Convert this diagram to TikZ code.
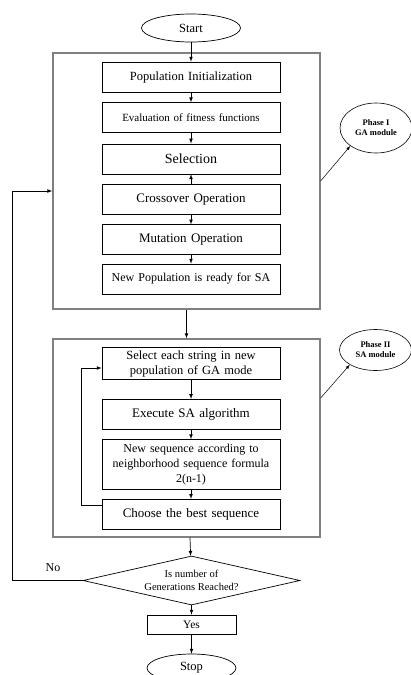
\documentclass[tikz,border=0pt]{standalone}
\usepackage{fontspec}
\setmainfont{Liberation Serif}
\usetikzlibrary{shapes.geometric, arrows, positioning}

\begin{document}
\begin{tikzpicture}[x=1pt, y=-1pt, node distance=10pt,
        stepbox/.style={rectangle, draw=black, line width=0.7pt, text width=172pt, align=center, minimum height=29.5pt, inner sep=3pt, font=\fontsize{12.5}{13.5}\selectfont},
        frame/.style={rectangle, draw=gray, line width=1.3pt, minimum width=267pt},
        term/.style={ellipse, draw=black, line width=0.7pt, inner sep=0pt, font=\fontsize{12.5}{14}\selectfont},
        phase/.style={ellipse, draw=black, line width=0.6pt, inner sep=0pt, minimum width=72pt, align=center, font=\fontsize{8.5}{10}\selectfont\bfseries},
        line/.style={draw=black, -latex, line width=0.7pt}]

        \useasboundingbox (0,0) rectangle (411,675);

        % Marcos de las dos fases
        \node [frame, minimum height=256pt] (ga) at (186.5,181) {};
        \node [frame, minimum height=198pt] (sa) at (186.5,438) {};

        % Fase I (GA)
        \node [term, minimum width=99pt, minimum height=28pt] (start) at (191,28) {Start};
        \node [stepbox, minimum height=30pt] (init) at (191,77) {Population Initialization};
        \node [stepbox, below=10pt of init, font=\fontsize{11}{13}\selectfont] (eval) {Evaluation of fitness functions};
        \node [stepbox, below=11pt of eval, minimum height=30pt, font=\fontsize{14}{15}\selectfont] (sel) {Selection};
        \node [stepbox, below=10pt of sel, font=\fontsize{13}{14}\selectfont] (cross) {Crossover Operation};
        \node [stepbox, below=10pt of cross, font=\fontsize{13}{14}\selectfont] (mut) {Mutation Operation};
        \node [stepbox, below=9pt of mut, minimum height=30pt, font=\fontsize{12}{13}\selectfont] (newpop) {New Population is ready for SA};

        % Fase II (SA)
        \node [stepbox, minimum height=31pt, font=\fontsize{12.5}{15}\selectfont] (pick) at (191,363.5) {Select each string in new\\population of GA mode};
        \node [stepbox, below=19pt of pick, font=\fontsize{13}{14}\selectfont] (runsa) {Execute SA algorithm};
        \node [stepbox, below=10pt of runsa, minimum height=50pt, font=\fontsize{12}{15}\selectfont] (newseq) {New sequence according to\\neighborhood sequence formula\\2(n-1)};
        \node [stepbox, below=9pt of newseq, minimum height=30pt, font=\fontsize{13}{14}\selectfont] (best) {Choose the best sequence};

        % Decision y fin
        \node [diamond, draw=black, line width=0.7pt, aspect=4.4, inner sep=0pt, minimum width=217pt, minimum height=49pt, align=center, font=\fontsize{10.5}{13}\selectfont] (check) at (191.5,580.5) {Is number of\\Generations Reached?};
        \node [rectangle, draw=black, line width=0.7pt, minimum width=89pt, minimum height=19pt, inner sep=0pt, font=\fontsize{11.5}{13}\selectfont] (yes) at (191.5,624.5) {Yes};
        \node [term, minimum width=89pt, minimum height=28pt] (stop) at (191.5,668) {Stop};
        \node [font=\fontsize{12}{13}\selectfont] (no) at (53,568) {No};

        % Etiquetas de fase
        \node [phase, minimum height=50pt] (phaseone) at (376,128) {Phase I\\GA module};
        \node [phase, minimum height=41pt] (phasetwo) at (375.5,350) {Phase II\\SA module};

        \path [line] (start) -- (init);
        \path [line] (init) -- (eval);
        \path [line] (eval) -- (sel);
        \path [line] (cross) -- (sel);
        \path [line] (cross) -- (mut);
        \path [line] (mut) -- (newpop);
        \path [line] (ga) -- (sa);
        \path [line] (pick) -- (runsa);
        \path [line] (runsa) -- (newseq);
        \path [line] (newseq) -- (best);
        \path [line] ([yshift=9pt]best.west) -- ++(-20,0) |- ([yshift=-4.5pt]pick.west);
        \path [line] (sa) -- (check);
        \path [line] (check) -- (yes);
        \path [line] (yes) -- (stop);
        \path [line] (check.west) -- ++(-70,0) |- ([yshift=-10pt]ga.west);
        \path [line, line width=0.5pt] (ga.east) -- (phaseone.south west);
        \path [line, line width=0.5pt] ([yshift=40pt]sa.east) -- (phasetwo.south west);
    \end{tikzpicture}
\end{document}
